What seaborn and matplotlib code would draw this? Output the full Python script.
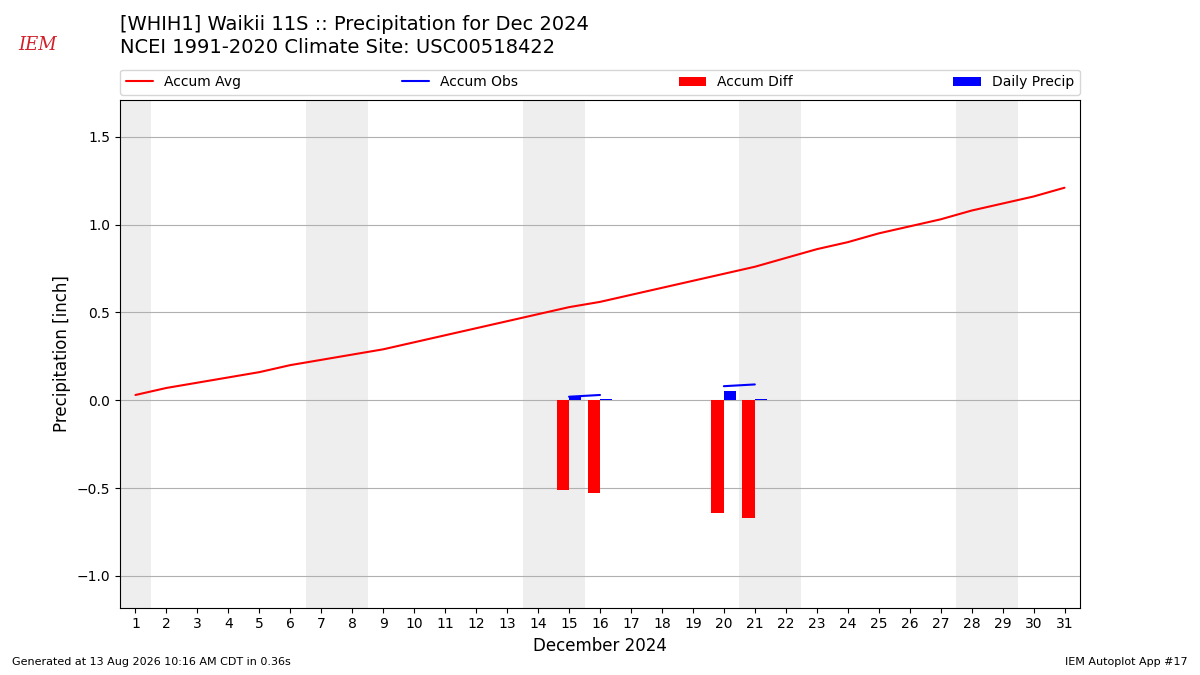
import numpy as np
import pandas as pd
import matplotlib
matplotlib.use("Agg")
import matplotlib.pyplot as plt
import seaborn as sns
from matplotlib.patches import Patch
from matplotlib.lines import Line2D

# Data
days = list(range(1, 32))
accum_avg = [0.03, 0.07, 0.10, 0.13, 0.16, 0.20, 0.23, 0.26, 0.29, 0.33,
             0.37, 0.41, 0.45, 0.49, 0.53, 0.56, 0.60, 0.64, 0.68, 0.72,
             0.76, 0.81, 0.86, 0.90, 0.95, 0.99, 1.03, 1.08, 1.12, 1.16, 1.21]
obs_days = [15, 16, 20, 21]
accum_obs = [0.02, 0.03, 0.08, 0.09]
daily_precip = [0.02, 0.006, 0.05, 0.006]
accum_diff = [-0.51, -0.53, -0.64, -0.67]
weekend_days = [1, 7, 8, 14, 15, 21, 22, 28, 29]

df = pd.DataFrame({'day': days, 'avg': accum_avg})
obs = pd.DataFrame({'day': obs_days, 'accum': accum_obs,
                    'daily': daily_precip, 'diff': accum_diff})

sns.set_style("white", rc={'text.color': 'black', 'axes.labelcolor': 'black',
                           'xtick.color': 'black', 'ytick.color': 'black',
                           'axes.edgecolor': 'black'})
plt.rcParams['font.family'] = ['DejaVu Sans']

fig = plt.figure(figsize=(12, 6.75), dpi=100)
ax = fig.add_axes([0.1, 0.1, 0.8, 0.752])

# weekend shading
for d in weekend_days:
    ax.axvspan(d - 0.5, d + 0.5, color='#eeeeee', lw=0, zorder=0)

ax.bar(obs['day'], obs['diff'], width=-0.4, align='edge', color='red',
       edgecolor='none', lw=0, zorder=2)
ax.bar(obs['day'], obs['daily'], width=0.4, align='edge', color='blue',
       edgecolor='none', lw=0, zorder=2)

sns.lineplot(data=df, x='day', y='avg', color='red', lw=1.5, ax=ax, zorder=3)
# observed accumulation only where data exists (two segments)
for seg in [obs.iloc[0:2], obs.iloc[2:4]]:
    sns.lineplot(data=seg, x='day', y='accum', color='blue', lw=1.5, ax=ax, zorder=3)

ax.set_xlim(0.5, 31.5)
ax.set_ylim(-1.18, 1.71)
ax.set_xticks(days)
ax.set_yticks([-1.0, -0.5, 0.0, 0.5, 1.0, 1.5])
ax.yaxis.grid(True, color='#b0b0b0', lw=0.8)
ax.set_axisbelow(True)
for s in ax.spines.values():
    s.set_color('black')
    s.set_linewidth(0.8)
ax.tick_params(axis='both', which='both', length=3.5, width=0.8, labelsize=10,
               bottom=True, left=True, color='black', labelcolor='black')
ax.set_xlabel('December 2024', fontsize=12)
ax.set_ylabel('Precipitation [inch]', fontsize=12)

handles = [Line2D([], [], color='red', lw=1.5), Line2D([], [], color='blue', lw=1.5),
           Patch(facecolor='red', edgecolor='none'), Patch(facecolor='blue', edgecolor='none')]
labels = ['Accum Avg', 'Accum Obs', 'Accum Diff', 'Daily Precip']
ax.legend(handles, labels, ncol=4, mode='expand', loc='lower left',
          bbox_to_anchor=(0, 1.01, 1, 0.06), borderaxespad=0, fontsize=10,
          frameon=True, fancybox=True)

fig.text(0.1, 0.963, '[WHIH1] Waikii 11S :: Precipitation for Dec 2024',
         fontsize=14, va='center')
fig.text(0.1, 0.929, 'NCEI 1991-2020 Climate Site: USC00518422',
         fontsize=14, va='center')
fig.text(0.01, 0.015, 'Generated at 13 Aug 2026 10:16 AM CDT in 0.36s', fontsize=8)
fig.text(0.99, 0.015, 'IEM Autoplot App #17', fontsize=8, ha='right')
fig.text(0.031, 0.934, 'IEM', fontsize=13, color='#d0202a', style='italic',
         family='DejaVu Serif', ha='center', va='center')

fig.savefig('out.png', dpi=100)
